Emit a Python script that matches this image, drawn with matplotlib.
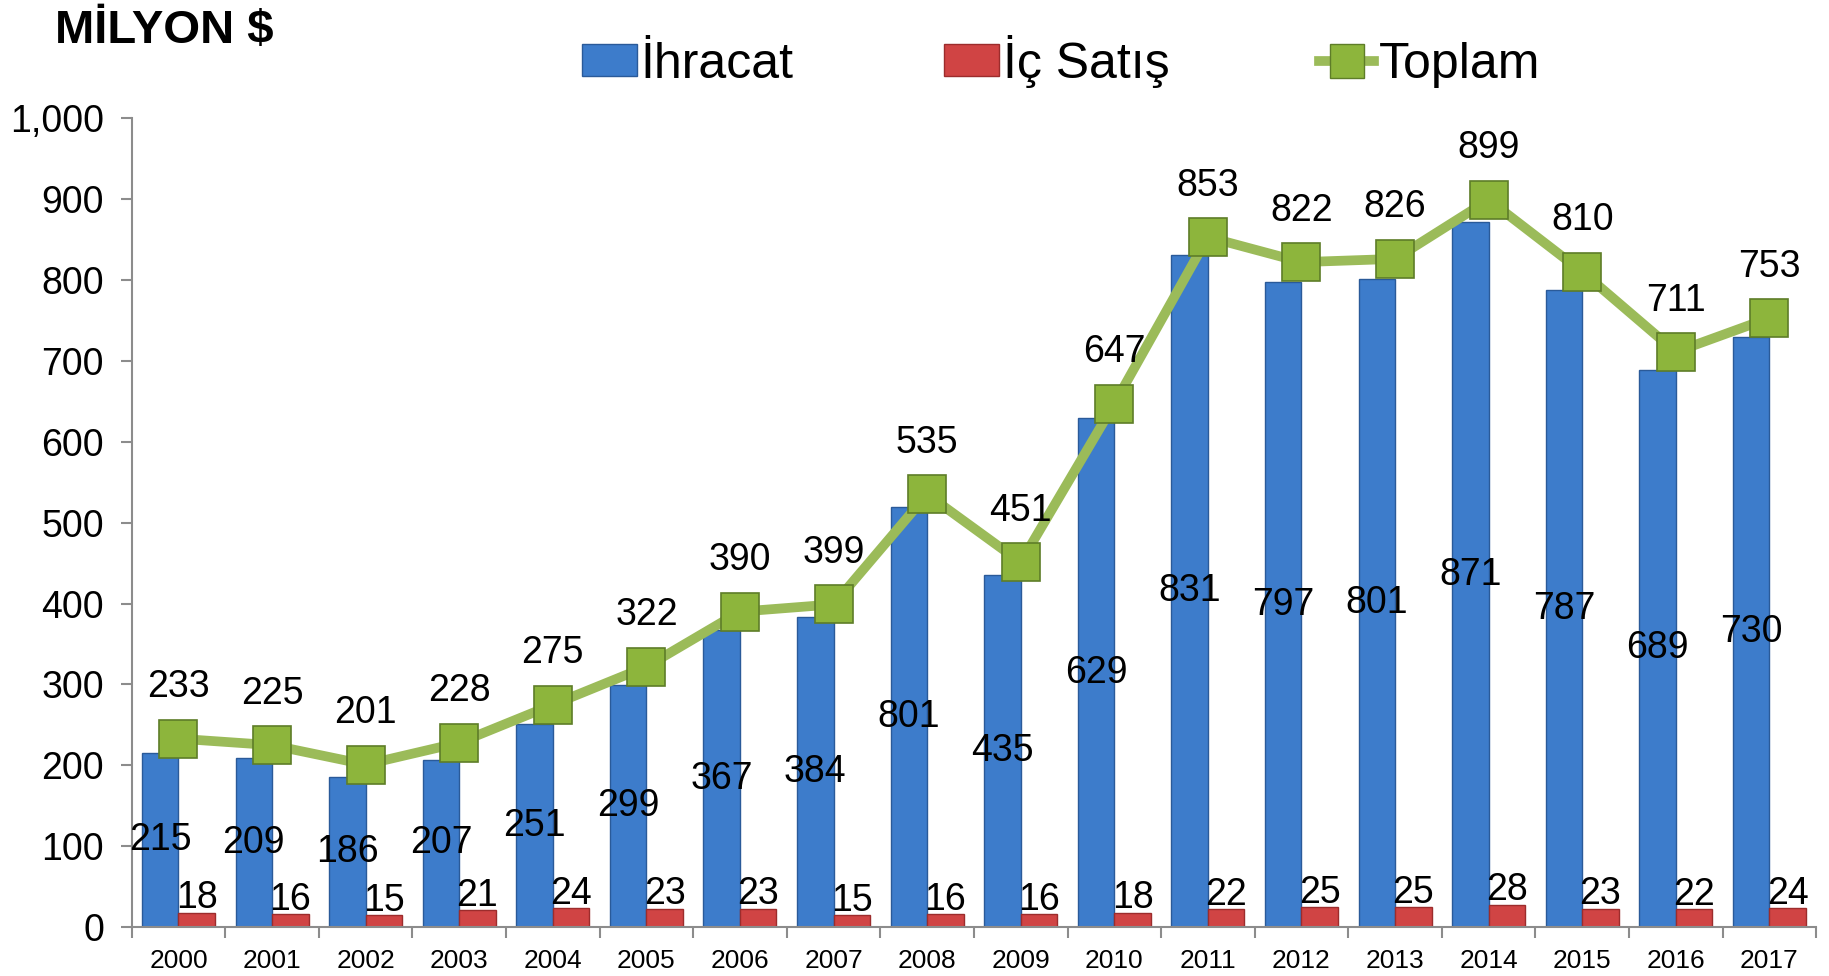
import matplotlib
matplotlib.use("Agg")
import matplotlib.pyplot as plt
import numpy as np
from matplotlib.lines import Line2D
from matplotlib.patches import Patch

plt.rcParams['font.family'] = ['Liberation Sans', 'DejaVu Sans']

years = ['2000', '2001', '2002', '2003', '2004', '2005', '2006', '2007', '2008',
         '2009', '2010', '2011', '2012', '2013', '2014', '2015', '2016', '2017']
ihracat = [215, 209, 186, 207, 251, 299, 367, 384, 519, 435, 629, 831, 797, 801, 871, 787, 689, 730]
# label text as printed in the source (2008 shows 801)
ihracat_labels = ['215', '209', '186', '207', '251', '299', '367', '384', '801', '435',
                  '629', '831', '797', '801', '871', '787', '689', '730']
ic_satis = [18, 16, 15, 21, 24, 23, 23, 15, 16, 16, 18, 22, 25, 25, 28, 23, 22, 24]
toplam = [233, 225, 201, 228, 275, 322, 390, 399, 535, 451, 647, 853, 822, 826, 899, 810, 711, 753]

BLUE = '#3D7CCB'
BLUE_EDGE = '#2A5A99'
RED = '#D04444'
RED_EDGE = '#9C2C2C'
GREEN = '#9BBB59'
GREEN_MK = '#8DB53C'
GREEN_EDGE = '#5E7D28'
AXIS = '#8C8C8C'

fig = plt.figure(figsize=(18.29, 9.76), dpi=100)
ax = fig.add_axes([0.072, 0.050, 0.921, 0.829])

x = np.arange(len(years))
w = 0.39
ax.bar(x - w / 2, ihracat, w, color=BLUE, edgecolor=BLUE_EDGE, linewidth=1, zorder=2)
ax.bar(x + w / 2, ic_satis, w, color=RED, edgecolor=RED_EDGE, linewidth=1, zorder=2)
ax.plot(x, toplam, color=GREEN, linewidth=7, marker='s', markersize=28,
        markerfacecolor=GREEN_MK, markeredgecolor=GREEN_EDGE, markeredgewidth=1.2, zorder=4)

# data labels
for i in range(len(years)):
    ax.text(x[i] - w / 2, ihracat[i] / 2, ihracat_labels[i], ha='center', va='center',
            fontsize=27, color='black', zorder=5)
    ax.annotate(str(ic_satis[i]), (x[i] + w / 2, ic_satis[i]), xytext=(0, 3),
                textcoords='offset points', ha='center', va='baseline', fontsize=27, zorder=5)
    ax.annotate(str(toplam[i]), (x[i], toplam[i]), xytext=(0, 37),
                textcoords='offset points', ha='center', va='center', fontsize=27, zorder=5)

ax.set_xlim(-0.5, len(years) - 0.5)
ax.set_ylim(0, 1000)
ax.set_yticks(np.arange(0, 1001, 100))
ax.set_yticklabels([f'{v:,}' for v in range(0, 1001, 100)], fontsize=27)
ax.set_xticks(x)
ax.set_xticklabels(years, fontsize=19)
ax.set_xticks(np.arange(-0.5, len(years), 1), minor=True)
ax.tick_params(axis='x', which='major', length=0, pad=16)
ax.tick_params(axis='x', which='minor', length=8, color=AXIS, width=1.5)
ax.tick_params(axis='y', length=8, color=AXIS, width=1.5, pad=12)

for s in ['top', 'right']:
    ax.spines[s].set_visible(False)
for s in ['left', 'bottom']:
    ax.spines[s].set_color(AXIS)
    ax.spines[s].set_linewidth(1.5)

fig.text(0.030, 0.968, 'MİLYON $', fontsize=34, fontweight='bold', ha='left', va='center')

handles = [
    Patch(facecolor=BLUE, edgecolor=BLUE_EDGE),
    Patch(facecolor=RED, edgecolor=RED_EDGE),
    Line2D([0], [0], color=GREEN, linewidth=7, marker='s', markersize=24,
           markerfacecolor=GREEN_MK, markeredgecolor=GREEN_EDGE),
]
fig.legend(handles, ['İhracat', 'İç Satış', 'Toplam'], loc='center', bbox_to_anchor=(0.58, 0.937),
           ncol=3, frameon=False, fontsize=36, handlelength=1.1, handletextpad=0.08,
           columnspacing=3.0, handleheight=0.6)

fig.savefig('out.png', dpi=100, facecolor='white')
